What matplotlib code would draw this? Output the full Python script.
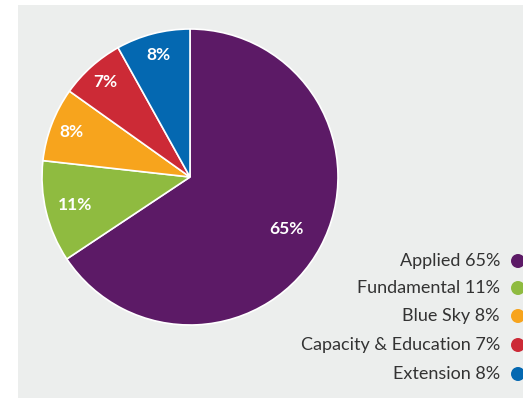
import numpy as np
import matplotlib
matplotlib.use("Agg")
import matplotlib.pyplot as plt
from matplotlib.patches import Rectangle, Circle

categories = ["Applied", "Fundamental", "Blue Sky", "Capacity & Education", "Extension"]
shares = [65, 11, 8, 7, 8]
colors = ["#5c1a66", "#8fbb40", "#f7a41d", "#cc2a36", "#0468b1"]

W, H = 523, 398
fig = plt.figure(figsize=(W / 100, H / 100), dpi=100)
fig.patch.set_facecolor("white")

# light grey panel behind the chart
fig.add_artist(Rectangle((18 / W, 0), 1 - 18 / W, 1 - 5 / H,
                         transform=fig.transFigure, facecolor="#eceeed",
                         edgecolor="none", zorder=0))

cx, cy, r = 190, 177, 148
ax = fig.add_axes([(cx - r) / W, (H - cy - r) / H, 2 * r / W, 2 * r / H])
ax.set_facecolor("none")
wedges, _ = ax.pie(shares, colors=colors, startangle=90, counterclock=False,
                   radius=1.0, wedgeprops=dict(edgecolor="white", linewidth=1.2))
ax.set_xlim(-1, 1)
ax.set_ylim(-1, 1)
ax.set_aspect("equal")
ax.axis("off")

label_dist = [0.74, 0.80, 0.86, 0.86, 0.85]
for w, v, d in zip(wedges, shares, label_dist):
    mid = np.deg2rad((w.theta1 + w.theta2) / 2)
    ax.text(d * np.cos(mid), d * np.sin(mid), f"{v}%", color="white",
            fontsize=12.5, fontweight="bold", family="Lato",
            ha="center", va="center")

# legend: right-aligned labels with coloured dots
row_y = [261, 288, 316, 345, 374]
for name, v, c, y in zip(categories, shares, colors, row_y):
    fig.text(500 / W, 1 - y / H, f"{name} {v}%", ha="right", va="center",
             fontsize=13, color="#333333", family="Lato")
    fig.add_artist(Circle((518, H - y), 7, transform=None,
                          facecolor=c, edgecolor="none"))

fig.savefig("out.png", dpi=100)
